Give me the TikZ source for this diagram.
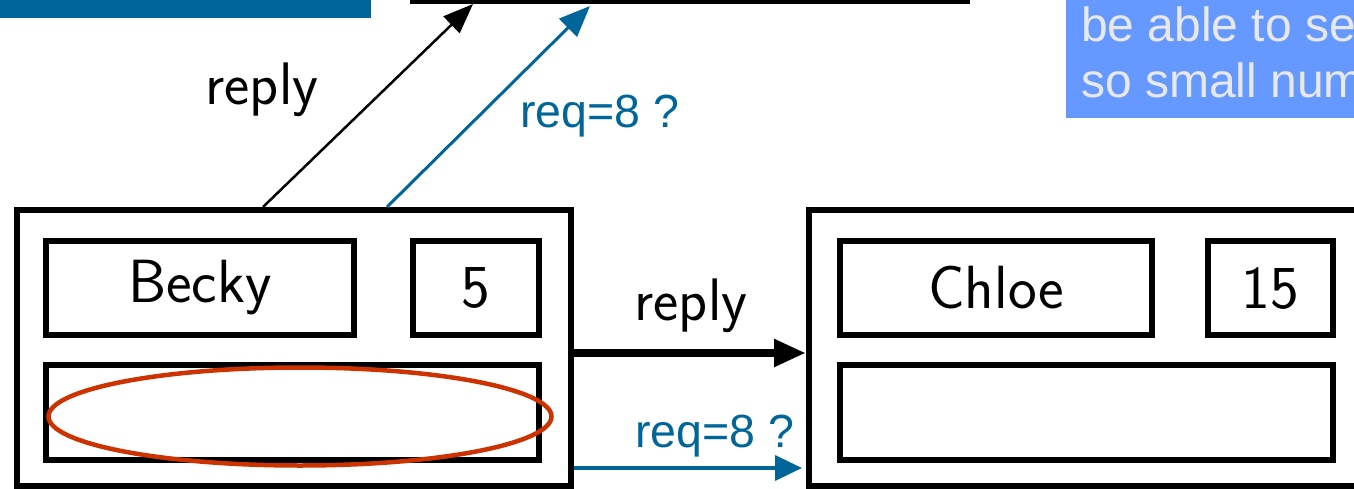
\documentclass[tikz,border=0pt]{standalone}
\usepackage{fontspec}
\usetikzlibrary{arrows.meta,shapes.geometric}
\newfontfamily\notefont{Liberation Sans}
\definecolor{slideblue}{HTML}{006699}
\definecolor{noteblue}{HTML}{6699FF}
\definecolor{notetext}{HTML}{E8E8E8}
\definecolor{markred}{HTML}{CC3300}
\begin{document}
\begin{tikzpicture}[x=1pt,y=-1pt,
  frame/.style={draw, line width=6pt, rectangle, inner sep=0pt, outer sep=3pt,
                font=\sffamily\fontsize{61}{72}\selectfont},
  lmlabel/.style={inner sep=0pt, anchor=base, font=\sffamily\fontsize{60}{72}\selectfont},
  reqlabel/.style={inner sep=0pt, anchor=base west, text=slideblue,
                   font=\notefont\fontsize{46.5}{54}\selectfont},
  notelabel/.style={inner sep=0pt, anchor=base west, text=notetext,
                    font=\notefont\fontsize{48}{56}\selectfont},
  msg/.style={line width=2.5pt, -{Triangle[length=30pt,width=23pt]}},
  reqmsg/.style={draw=slideblue, line width=3pt, -{Triangle[length=31pt,width=25pt]}},
]
\useasboundingbox (0,0) rectangle (1354,489);
\clip (0,0) rectangle (1354,489);

% title bar and note box
\fill[slideblue] (0,-20) rectangle (371,18.5);
\fill[noteblue] (1066,-20) rectangle (1400,118);
\node[notelabel] (note1) at (1081,42) {be able to se};
\node[notelabel] (note2) at (1081,98) {so small num};

% process boxes
\node[frame, minimum width=554pt, minimum height=100pt] (top) at (690,-49) {};

\node[frame, minimum width=554pt, minimum height=276pt] (becky) at (294,348) {};
\node[frame, minimum width=308pt, minimum height=94pt] (beckyname) at (200,288) {Becky};
\node[frame, minimum width=126pt, minimum height=94pt] (beckyval) at (476,288) {5};
\node[frame, minimum width=493pt, minimum height=95pt] (beckyq) at (292.5,412.5) {};

\node[frame, minimum width=581pt, minimum height=276pt] (chloe) at (1099.5,348) {};
\node[frame, minimum width=312pt, minimum height=94pt] (chloename) at (996,288) {Chloe};
\node[frame, minimum width=125pt, minimum height=94pt] (chloeval) at (1270.5,288) {15};
\node[frame, minimum width=493pt, minimum height=95pt] (chloeq) at (1086.5,412.5) {};

% highlighted queue
\node[ellipse, draw=markred, line width=4.5pt, inner sep=0pt,
      minimum width=503pt, minimum height=98pt] (mark) at (300,416.5) {};

% messages
\draw[msg] ([xshift=249pt]becky.north west) -- ([xshift=63pt]top.south west);
\draw[reqmsg] ([xshift=373pt]becky.north west) -- ([xshift=180pt,yshift=-2pt]top.south west);
\draw[line width=8pt, -{Triangle[length=32pt,width=26pt]}]
  ([yshift=-5pt]becky.east) -- ([yshift=-5pt]chloe.west);
\draw[draw=slideblue, line width=3.5pt, -{Triangle[length=27pt,width=25pt]}]
  ([yshift=-120pt]becky.east) -- ([xshift=-4pt,yshift=-120pt]chloe.west);

% message labels
\node[lmlabel] (reply1) at (262,105) {reply};
\node[reqlabel] (req1) at (520,128) {req=8 ?};
\node[lmlabel] (reply2) at (691,320) {reply};
\node[reqlabel] (req2) at (635,447) {req=8 ?};
\end{tikzpicture}
\end{document}
